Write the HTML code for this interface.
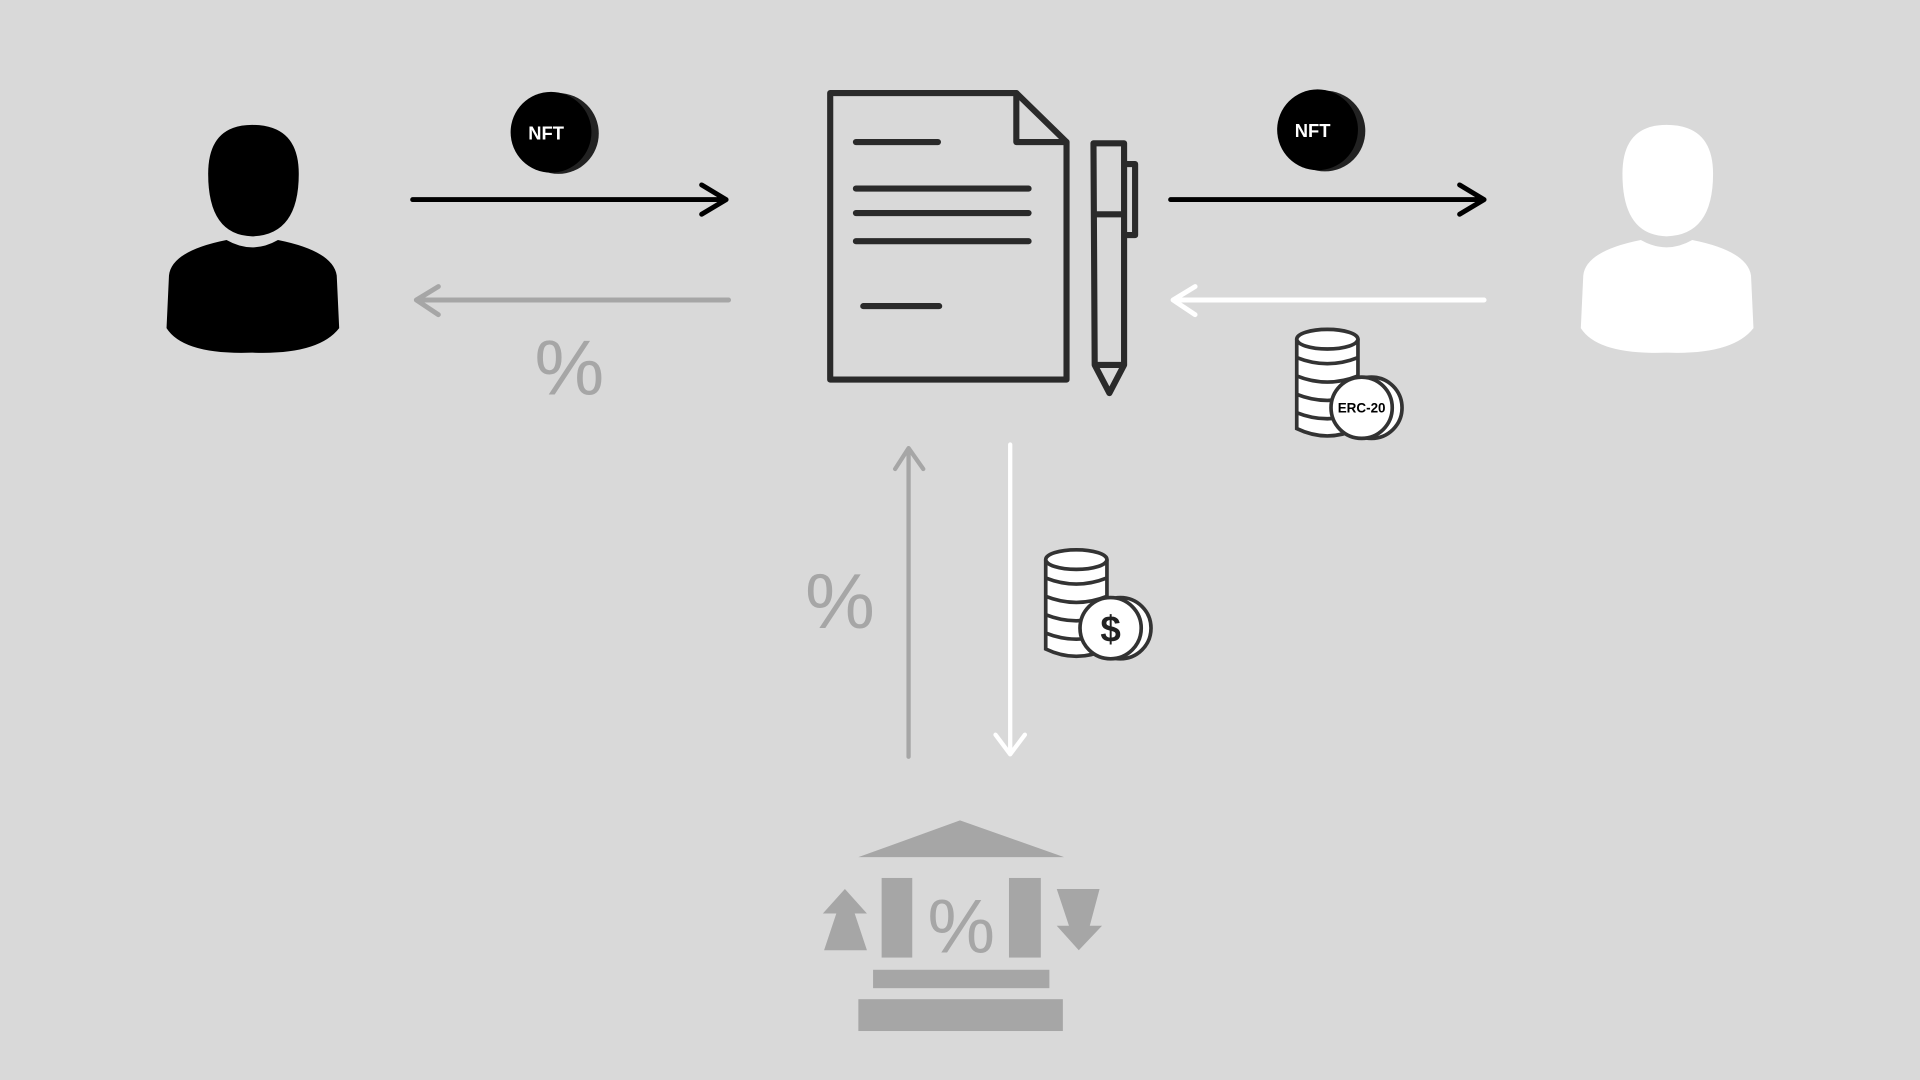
<!DOCTYPE html>
<html><head><meta charset="utf-8"><style>
html,body{margin:0;padding:0;background:#d9d9d9;}
svg{display:block;}
text{font-family:"Liberation Sans",sans-serif;}
</style></head><body>
<svg width="1920" height="1080" viewBox="0 0 1568 882" preserveAspectRatio="none">
<rect width="1568" height="882" fill="#d9d9d9"/>
<g fill="#000">
<path d="M136,268 L138,225 Q140,205 185,196 Q206,208 227,196 Q272,205 275,225 L277,268 Q260,290 206,288 Q150,290 136,268 Z"/>
<path d="M170,142 Q170,102 206,102 Q244,102 244,142 Q244,192 206,193 Q170,192 170,142 Z"/>
</g>
<g fill="#fff">
<path d="M1291,268 L1293,225 Q1295,205 1340,196 Q1361,208 1382,196 Q1427,205 1430,225 L1432,268 Q1415,290 1361,288 Q1305,290 1291,268 Z"/>
<path d="M1325,142 Q1325,102 1361,102 Q1399,102 1399,142 Q1399,192 1361,193 Q1325,192 1325,142 Z"/>
</g>
<g>
<circle cx="456" cy="109" r="33" fill="#222"/>
<circle cx="450" cy="108" r="33" fill="#000"/>
<text x="446" y="114" font-size="15" font-weight="bold" fill="#fff" text-anchor="middle">NFT</text>
</g>
<g>
<circle cx="1082" cy="107" r="33" fill="#222"/>
<circle cx="1076" cy="106" r="33" fill="#000"/>
<text x="1072" y="112" font-size="15" font-weight="bold" fill="#fff" text-anchor="middle">NFT</text>
</g>
<g fill="none" stroke-width="4" stroke-linecap="round" stroke-linejoin="round">
<g stroke="#000"><path d="M337,163 H593 M573,151 L593,163 L573,175"/></g>
<g stroke="#a6a6a6"><path d="M595,245 H340 M358,234 L340,245 L358,257"/></g>
<g stroke="#000"><path d="M956,163 H1212 M1192,151 L1212,163 L1192,175"/></g>
<g stroke="#fff"><path d="M1212,245 H958 M976,234 L958,245 L976,257"/></g>
<g stroke="#a6a6a6" stroke-width="3.5"><path d="M742,618 V366 M731,383 L742,366 L754,383"/></g>
<g stroke="#fff" stroke-width="3.5"><path d="M825,363 V616 M813,600 L825,616 L837,600"/></g>
</g>
<text x="465" y="322" font-size="64" fill="#a6a6a6" text-anchor="middle">%</text>
<text x="686" y="513" font-size="64" fill="#a6a6a6" text-anchor="middle">%</text>
<g fill="none" stroke="#2a2a2a" stroke-width="5" stroke-linejoin="round" stroke-linecap="round">
<path d="M678,76 H830 L871,116 V310 H678 Z"/>
<path d="M830,76 V116 H871"/>
<path d="M699,116 H766 M699,154 H840 M699,174 H840 M699,197 H840 M705,250 H767"/>
</g>
<g fill="none" stroke="#2a2a2a" stroke-width="5" stroke-linejoin="round">
<path d="M893,117 H918 V298 L906,321 L894,298 Z"/>
<path d="M894,175 H918 M894,298 H918"/>
<path d="M919,134 H927 V192 H919"/>
</g>
<g stroke="#333" stroke-width="3" fill="#fff">
<path d="M1059,277 V350 Q1084,362 1109,350 V277"/>
<ellipse cx="1084" cy="277" rx="25" ry="8"/>
<path d="M1059,292 Q1084,302 1109,292 M1059,307 Q1084,317 1109,307 M1059,322 Q1084,332 1109,322 M1059,337 Q1084,347 1109,337" fill="none"/>
<circle cx="1120" cy="333" r="25"/>
<circle cx="1112" cy="333" r="25"/>
<text x="1112" y="337" font-size="11" font-weight="bold" fill="#000" stroke="none" text-anchor="middle" font-family="Liberation Mono, monospace">ERC-20</text>
</g>
<g stroke="#333" stroke-width="3" fill="#fff">
<path d="M854,457 V530 Q879,542 904,530 V457"/>
<ellipse cx="879" cy="457" rx="25" ry="8"/>
<path d="M854,472 Q879,482 904,472 M854,487 Q879,497 904,487 M854,502 Q879,512 904,502 M854,517 Q879,527 904,517" fill="none"/>
<circle cx="915" cy="513" r="25"/>
<circle cx="907" cy="513" r="25"/>
<text x="907" y="524" font-size="30" font-weight="bold" fill="#222" stroke="none" text-anchor="middle">$</text>
</g>
<g fill="#a6a6a6">
<path d="M701,700 L784,670 L869,700 Z"/>
<rect x="720" y="717" width="25" height="65"/>
<rect x="824" y="717" width="26" height="65"/>
<text x="785" y="778" font-size="62" text-anchor="middle">%</text>
<path d="M672,746 L690,726 L708,746 L698,746 L708,776 L673,776 L683,746 Z"/>
<path d="M863,726 L898,726 L890,756 L900,756 L881,776 L863,756 L873,756 Z"/>
<rect x="713" y="792" width="144" height="15"/>
<rect x="701" y="816" width="167" height="26"/>
</g>
</svg>
</body></html>
